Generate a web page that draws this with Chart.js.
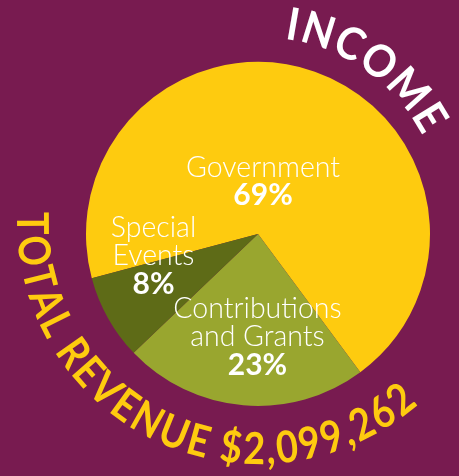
<!DOCTYPE html>
<html>
<head>
<meta charset="utf-8">
<script src="https://cdn.jsdelivr.net/npm/chart.js@4"></script>
<style>
  html, body { margin: 0; padding: 0; background: #781b50; }
  #wrap { width: 459px; height: 476px; position: relative; }
</style>
</head>
<body>
<div id="wrap"><canvas id="c" width="459" height="476"></canvas></div>
<script>
// ---- data ----
const categories = ['Government', 'Contributions and Grants', 'Special Events'];
const shares = [69, 23, 8];
const sliceLabelLines = [['Government'], ['Contributions', 'and Grants'], ['Special', 'Events']];
const titleText = 'INCOME';
const totalText = 'TOTAL REVENUE $2,099,262';

// ---- style ----
const BG = '#781b50';
const colors = ['#fecb0f', '#99a62f', '#5e6b17'];
const YELLOW = '#fecb0f';
// label anchor in polar coords relative to pie centre: angle (deg, canvas), fraction of radius
const labelPos = [
  { a: -84.6, f: 0.31 },
  { a: 90.3, f: 0.595 },
  { a: 168.4, f: 0.62 }
];

function drawArcText(ctx, text, cx, cy, rBase, rMid, a0, a1, dir, font, color, sx) {
  ctx.save();
  ctx.font = font;
  ctx.fillStyle = color;
  ctx.textAlign = 'center';
  ctx.textBaseline = 'alphabetic';
  const chars = Array.from(text);
  const w = chars.map(ch => ctx.measureText(ch).width * sx);
  let centresDist = 0;
  for (let i = 0; i < chars.length - 1; i++) centresDist += (w[i] + w[i + 1]) / 2;
  const span = Math.abs(a1 - a0) * Math.PI / 180 * rMid;
  const spacing = (span - centresDist) / (chars.length - 1);
  let pos = 0;
  for (let i = 0; i < chars.length; i++) {
    if (i > 0) pos += (w[i - 1] + w[i]) / 2 + spacing;
    const a = a0 * Math.PI / 180 + dir * pos / rMid;
    const x = cx + rBase * Math.cos(a);
    const y = cy + rBase * Math.sin(a);
    ctx.save();
    ctx.translate(x, y);
    ctx.rotate(dir > 0 ? a + Math.PI / 2 : a - Math.PI / 2);
    ctx.scale(sx, 1);
    ctx.fillText(chars[i], 0, 0);
    ctx.restore();
  }
  ctx.restore();
}

const decorPlugin = {
  id: 'decor',
  beforeDraw(chart) {
    const ctx = chart.ctx;
    ctx.save();
    ctx.fillStyle = BG;
    ctx.fillRect(0, 0, chart.width, chart.height);
    ctx.restore();
  },
  afterDatasetsDraw(chart) {
    const ctx = chart.ctx;
    const meta = chart.getDatasetMeta(0);
    const arc0 = meta.data[0];
    const cx = arc0.x, cy = arc0.y, R = arc0.outerRadius;
    // slice labels
    const capH = 20, lh = 28.5;
    meta.data.forEach((el, i) => {
      const p = labelPos[i];
      const ax = cx + Math.cos(p.a * Math.PI / 180) * p.f * R;
      const ay = cy + Math.sin(p.a * Math.PI / 180) * p.f * R;
      const lines = sliceLabelLines[i].concat([shares[i] + '%']);
      const n = lines.length;
      ctx.save();
      ctx.fillStyle = '#ffffff';
      ctx.textAlign = 'center';
      ctx.textBaseline = 'alphabetic';
      lines.forEach((t, j) => {
        const by = ay - (n - 1) * lh / 2 + j * lh + capH / 2;
        ctx.font = (j === n - 1 ? 'bold 30px Lato' : '300 28.5px Lato');
        ctx.fillText(t, ax, by);
      });
      ctx.restore();
    });
    // curved texts around the pie
    const tcx = cx + 1, tcy = cy - 12;
    drawArcText(ctx, titleText, tcx, tcy, 185, 200, -80.2, -31.5, 1, 'bold 45px Lato', '#ffffff', 0.92);
    drawArcText(ctx, totalText, tcx, tcy, 242, 227, 179.7, 51.4, -1, 'bold 44px Lato', YELLOW, 0.86);
  }
};

new Chart(document.getElementById('c'), {
  type: 'pie',
  data: {
    labels: categories,
    datasets: [{
      data: shares,
      backgroundColor: colors,
      borderWidth: 0
    }]
  },
  options: {
    responsive: false,
    animation: false,
    rotation: 255.1,
    layout: { padding: { left: 86, right: 29, top: 62, bottom: 70 } },
    plugins: { legend: { display: false }, tooltip: { enabled: false } }
  },
  plugins: [decorPlugin]
});
</script>
</body>
</html>
